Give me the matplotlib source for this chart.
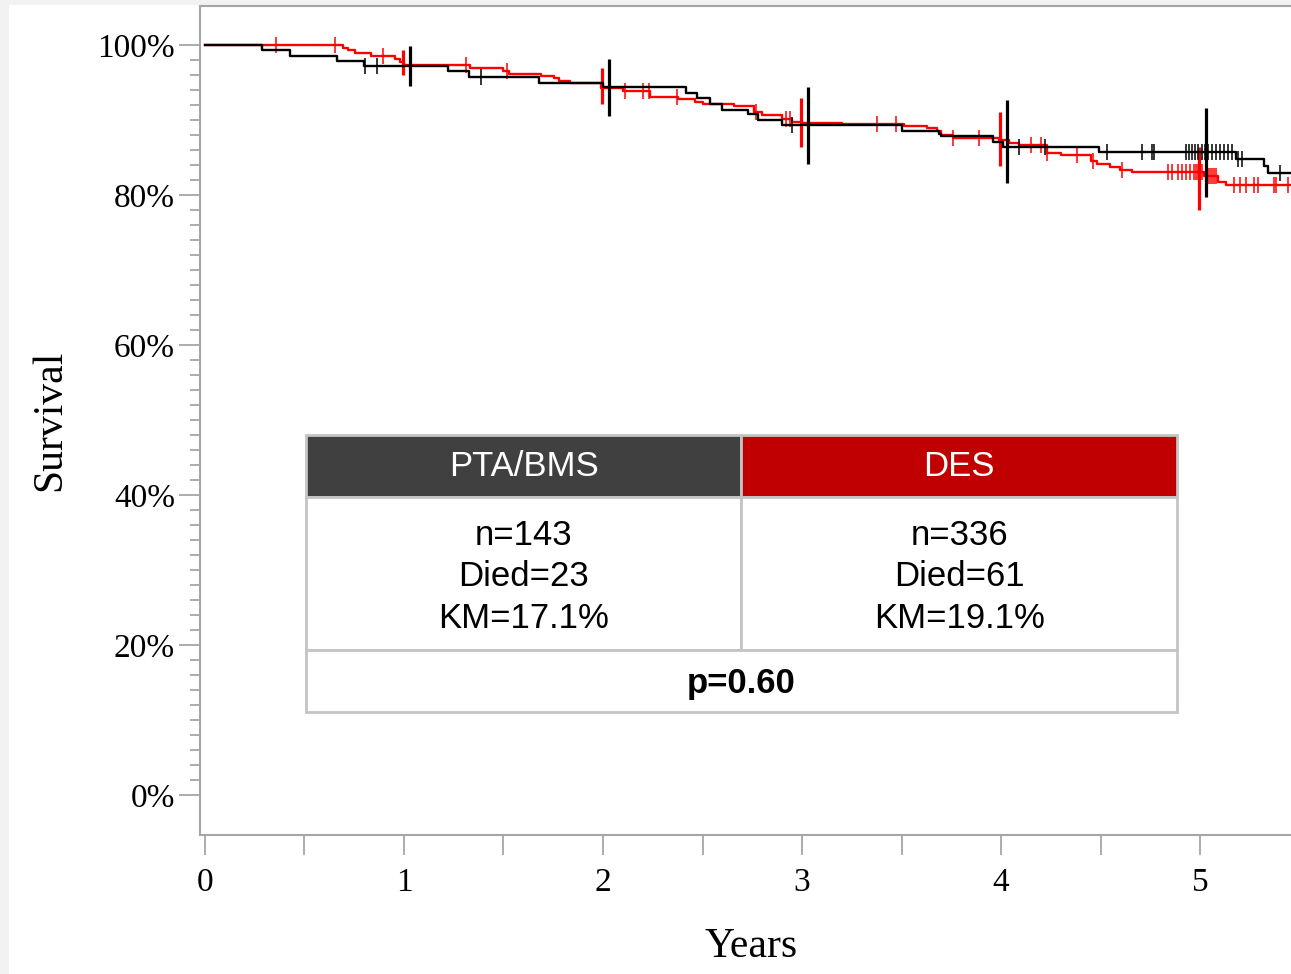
import numpy as np
import matplotlib
matplotlib.use("Agg")
import matplotlib.pyplot as plt
from matplotlib.patches import Rectangle
from matplotlib.ticker import FixedLocator, PercentFormatter

# Kaplan-Meier steps (years, survival %)
pta_t = [0, 0.288, 0.427, 0.662, 0.80, 1.22, 1.327, 1.68, 2.0, 2.417, 2.47, 2.54, 2.60,
         2.73, 2.78, 2.90, 3.50, 3.69, 3.70, 3.96, 4.01, 4.49, 5.18, 5.32, 5.34]
pta_s = [100, 99.33, 98.6, 97.9, 97.2, 96.6, 95.8, 95.0, 94.45, 93.6, 93.0, 92.2, 91.4,
         90.8, 90.0, 89.3, 88.6, 88.2, 87.9, 87.1, 86.4, 85.7, 84.8, 83.9, 82.9]
pta_censor = [0.805, 0.865, 1.385, 2.95, 4.09, 4.22, 4.53, 4.71, 4.76, 4.77, 4.93, 4.945,
              4.96, 4.975, 4.99, 5.01, 5.025, 5.04, 5.06, 5.08, 5.10, 5.12, 5.14, 5.16,
              5.19, 5.21, 5.40]

des_t = [0, 0.694, 0.717, 0.754, 0.833, 0.955, 0.98, 1.0, 1.33, 1.496, 1.53, 1.69, 1.754,
         1.78, 1.834, 1.99, 2.10, 2.236, 2.375, 2.46, 2.50, 2.66, 2.76, 2.80, 2.90, 2.95,
         3.0, 3.2, 3.51, 3.63, 3.68, 3.70, 3.76, 3.99, 4.04, 4.09, 4.23, 4.30, 4.45, 4.48,
         4.55, 4.60, 4.66, 5.02, 5.09, 5.13]
des_s = [100, 99.55, 99.33, 99.0, 98.6, 98.1, 97.7, 97.35, 97.0, 96.6, 96.1, 95.9, 95.55,
         95.2, 94.9, 94.3, 93.9, 93.1, 92.8, 92.45, 92.1, 91.9, 91.1, 90.7, 90.2, 89.8,
         89.6, 89.5, 89.2, 88.9, 88.6, 88.0, 87.6, 87.3, 87.0, 86.7, 85.6, 85.3, 84.6, 84.2,
         83.8, 83.4, 83.1, 82.5, 81.8, 81.3]
des_censor = [0.357, 0.655, 0.893, 1.31, 1.52, 2.11, 2.20, 2.23, 2.37, 2.77, 2.92, 2.94,
              3.375, 3.47, 3.76, 3.89, 4.15, 4.20, 4.23, 4.38, 4.46, 4.61, 4.84, 4.86,
              4.89, 4.91, 4.93, 4.95, 4.97, 4.98, 4.99, 5.0, 5.01, 5.03, 5.04, 5.05, 5.06,
              5.07, 5.08, 5.17, 5.20, 5.23, 5.27, 5.29, 5.37, 5.38, 5.44]
follow_up_end = 5.5

# confidence intervals at each year
ci_years = [1, 2, 3, 4, 5]
pta_lo = [94.5, 90.5, 84.2, 81.6, 79.7]
pta_hi = [99.9, 98.2, 94.4, 92.7, 91.6]
des_lo = [96.0, 92.2, 86.4, 83.9, 78.0]
des_hi = [99.3, 96.9, 93.0, 91.1, 86.4]

groups = ["PTA/BMS", "DES"]
group_colors = ["#404040", "#c00000"]
stats_text = ["n=143\nDied=23\nKM=17.1%", "n=336\nDied=61\nKM=19.1%"]
p_text = "p=0.60"

serif = "Liberation Serif"
sans = "Liberation Sans"
axis_gray = "#a6a6a6"


def surv_at(times, surv, x):
    idx = np.searchsorted(times, x, side="right") - 1
    return np.asarray(surv)[idx]


fig = plt.figure(figsize=(12.91, 9.74), dpi=100)
fig.patch.set_facecolor("#f2f2f2")
fig.add_artist(Rectangle((9 / 1291, 0), 1, 1 - 5 / 974, transform=fig.transFigure,
                         facecolor="white", edgecolor="none", zorder=-10))

ax = fig.add_axes([200 / 1291, 1 - 835 / 974, 1 - 200 / 1291, 829 / 974])
ax.set_facecolor("white")

# DES (red) first, then PTA/BMS (black)
for t, s, cens, lo, hi, col, off in [
    (des_t, des_s, des_censor, des_lo, des_hi, "#ff0000", -0.003),
    (pta_t, pta_s, pta_censor, pta_lo, pta_hi, "#000000", 0.028),
]:
    ax.step(list(t) + [follow_up_end], list(s) + [s[-1]], where="post", color=col, lw=1.7)
    ax.plot(cens, surv_at(t, s, cens), ls="none", marker="|", ms=11, mew=1.1, color=col)
    ax.vlines(np.array(ci_years) + off, lo, hi, color=col, lw=2.3)

ax.set_xlim(-0.025, 5.457)
ax.set_ylim(-5.33, 105.2)

ax.set_xticks([0, 1, 2, 3, 4, 5])
ax.xaxis.set_minor_locator(FixedLocator([0.5, 1.5, 2.5, 3.5, 4.5]))
ax.set_yticks([0, 20, 40, 60, 80, 100])
ax.yaxis.set_minor_locator(FixedLocator([v for v in range(2, 100, 2) if v % 20]))
ax.yaxis.set_major_formatter(PercentFormatter(decimals=0))

ax.tick_params(axis="both", which="both", color=axis_gray, width=1.3, labelsize=24)
ax.tick_params(axis="y", which="major", length=15, pad=3)
ax.tick_params(axis="y", which="minor", length=7)
ax.tick_params(axis="x", which="both", length=14.5, pad=9)
for lab in ax.get_xticklabels() + ax.get_yticklabels():
    lab.set_fontfamily(serif)

for side in ["left", "top", "bottom"]:
    ax.spines[side].set_color(axis_gray)
    ax.spines[side].set_linewidth(1.5)
ax.spines["right"].set_visible(False)

ax.set_ylabel("Survival", fontsize=30, family=serif)
ax.set_xlabel("Years", fontsize=30, family=serif)
ax.yaxis.set_label_coords(-0.12, 0.5)
ax.xaxis.set_label_coords(0.5055, -0.112)

# summary table (axes fraction)
x0, xm, x1 = 0.0972, 0.4963, 0.8955
y_head_top, y_head_bot, y_body_bot, y_p_bot = 0.4825, 0.4077, 0.2232, 0.1484
border = "#c4c4c4"
tr = ax.transAxes
for i, (name, col, txt) in enumerate(zip(groups, group_colors, stats_text)):
    xa, xb = (x0, xm) if i == 0 else (xm, x1)
    ax.add_patch(Rectangle((xa, y_head_bot), xb - xa, y_head_top - y_head_bot, transform=tr,
                           facecolor=col, edgecolor=border, lw=2, zorder=5))
    ax.add_patch(Rectangle((xa, y_body_bot), xb - xa, y_head_bot - y_body_bot, transform=tr,
                           facecolor="white", edgecolor=border, lw=2, zorder=5))
    ax.text((xa + xb) / 2, (y_head_top + y_head_bot) / 2, name, transform=tr, ha="center",
            va="center", color="white", fontsize=25, family=sans, zorder=6)
    ax.text((xa + xb) / 2, (y_head_bot + y_body_bot) / 2 - 0.004, txt, transform=tr,
            ha="center", va="center", color="black", fontsize=25, family=sans,
            linespacing=1.32, zorder=6)
ax.add_patch(Rectangle((x0, y_p_bot), x1 - x0, y_body_bot - y_p_bot, transform=tr,
                       facecolor="white", edgecolor=border, lw=2, zorder=5))
ax.text((x0 + x1) / 2, (y_body_bot + y_p_bot) / 2 - 0.003, p_text, transform=tr,
        ha="center", va="center", color="black", fontsize=25, family=sans,
        fontweight="bold", zorder=6)

fig.savefig("out.png", dpi=100, facecolor=fig.get_facecolor())
